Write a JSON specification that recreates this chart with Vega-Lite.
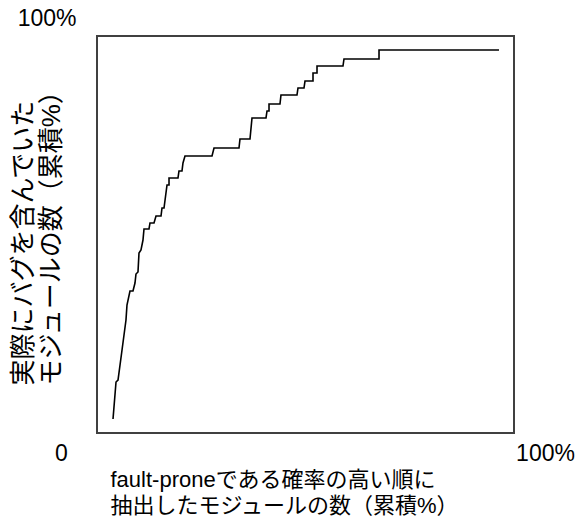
{
  "$schema": "https://vega.github.io/schema/vega-lite/v6.json",
  "autosize": {"type": "none"},
  "padding": {"left": 97, "top": 36, "right": 65, "bottom": 86},
  "width": 417,
  "height": 397,
  "background": "white",
  "config": {
    "view": {"stroke": "#404040", "strokeWidth": 2},
    "font": "Liberation Sans, Noto Sans CJK JP"
  },
  "data": {
    "values": [
      {"i": 1, "x": 3.84, "y": 3.53},
      {"i": 2, "x": 4.56, "y": 12.85},
      {"i": 3, "x": 5.04, "y": 13.35},
      {"i": 4, "x": 6.0, "y": 20.91},
      {"i": 5, "x": 6.95, "y": 28.46},
      {"i": 6, "x": 7.19, "y": 32.24},
      {"i": 7, "x": 7.91, "y": 35.77},
      {"i": 8, "x": 8.63, "y": 35.77},
      {"i": 9, "x": 9.11, "y": 37.78},
      {"i": 10, "x": 9.35, "y": 40.05},
      {"i": 11, "x": 9.83, "y": 40.55},
      {"i": 12, "x": 10.07, "y": 45.34},
      {"i": 13, "x": 10.55, "y": 46.1},
      {"i": 14, "x": 11.03, "y": 48.61},
      {"i": 15, "x": 11.27, "y": 51.39},
      {"i": 16, "x": 12.47, "y": 51.39},
      {"i": 17, "x": 12.71, "y": 52.9},
      {"i": 18, "x": 13.67, "y": 52.9},
      {"i": 19, "x": 14.15, "y": 54.66},
      {"i": 20, "x": 15.35, "y": 54.66},
      {"i": 21, "x": 15.59, "y": 56.68},
      {"i": 22, "x": 16.07, "y": 56.68},
      {"i": 23, "x": 16.79, "y": 62.47},
      {"i": 24, "x": 17.27, "y": 62.47},
      {"i": 25, "x": 17.27, "y": 64.23},
      {"i": 26, "x": 19.42, "y": 64.23},
      {"i": 27, "x": 19.66, "y": 66.0},
      {"i": 28, "x": 20.38, "y": 66.0},
      {"i": 29, "x": 20.62, "y": 68.01},
      {"i": 30, "x": 21.1, "y": 69.77},
      {"i": 31, "x": 27.58, "y": 69.77},
      {"i": 32, "x": 28.06, "y": 71.79},
      {"i": 33, "x": 34.05, "y": 71.79},
      {"i": 34, "x": 34.29, "y": 74.06},
      {"i": 35, "x": 36.69, "y": 74.06},
      {"i": 36, "x": 37.17, "y": 79.35},
      {"i": 37, "x": 40.53, "y": 79.35},
      {"i": 38, "x": 40.77, "y": 81.11},
      {"i": 39, "x": 41.25, "y": 81.11},
      {"i": 40, "x": 41.25, "y": 82.87},
      {"i": 41, "x": 43.88, "y": 82.87},
      {"i": 42, "x": 44.12, "y": 85.14},
      {"i": 43, "x": 47.96, "y": 85.14},
      {"i": 44, "x": 48.2, "y": 86.9},
      {"i": 45, "x": 49.64, "y": 86.9},
      {"i": 46, "x": 49.88, "y": 88.66},
      {"i": 47, "x": 51.8, "y": 88.66},
      {"i": 48, "x": 51.8, "y": 90.68},
      {"i": 49, "x": 52.76, "y": 90.68},
      {"i": 50, "x": 52.76, "y": 92.44},
      {"i": 51, "x": 58.99, "y": 92.44},
      {"i": 52, "x": 59.23, "y": 94.21},
      {"i": 53, "x": 67.63, "y": 94.21},
      {"i": 54, "x": 67.63, "y": 96.47},
      {"i": 55, "x": 96.4, "y": 96.47}
    ]
  },
  "mark": {"type": "line", "color": "black", "strokeWidth": 1.6, "clip": false},
  "encoding": {
    "order": {"field": "i", "type": "quantitative"},
    "x": {
      "field": "x",
      "type": "quantitative",
      "scale": {"domain": [0, 100], "nice": false, "zero": false},
      "axis": {
        "values": [0, 100],
        "labelExpr": "datum.value == 0 ? '0' : '100%'",
        "domain": false,
        "ticks": false,
        "tickSize": 0,
        "grid": false,
        "labelFontSize": 23,
        "labelColor": "black",
        "labelAlign": "center",
        "labelBaseline": "middle",
        "labelPadding": 20,
        "labelOffset": {"condition": {"test": "datum.value == 0", "value": -36}, "value": 31},
        "labelFlush": false,
        "labelOverlap": false,
        "title": ["fault-proneである確率の高い順に", "抽出したモジュールの数（累積%）"],
        "titleFontSize": 22,
        "titleFontWeight": "normal",
        "titleColor": "black",
        "titleAnchor": "start",
        "titleAlign": "left",
        "titleBaseline": "alphabetic",
        "titleX": 13,
        "titleY": 53,
        "titleLineHeight": 26
      }
    },
    "y": {
      "field": "y",
      "type": "quantitative",
      "scale": {"domain": [0, 100], "nice": false, "zero": false},
      "axis": {
        "values": [100],
        "labelExpr": "'100%'",
        "domain": false,
        "ticks": false,
        "tickSize": 0,
        "grid": false,
        "labelFontSize": 23,
        "labelColor": "black",
        "labelAlign": "right",
        "labelBaseline": "middle",
        "labelPadding": 21,
        "labelOffset": -18,
        "labelFlush": false,
        "labelOverlap": false,
        "title": ["実際にバグを含んでいた", "モジュールの数（累積%）"],
        "titleFontSize": 26,
        "titleFontWeight": "normal",
        "titleColor": "black",
        "titleAngle": 270,
        "titleAnchor": "start",
        "titleAlign": "left",
        "titleBaseline": "alphabetic",
        "titleX": -66,
        "titleY": 349,
        "titleLineHeight": 28
      }
    }
  }
}
